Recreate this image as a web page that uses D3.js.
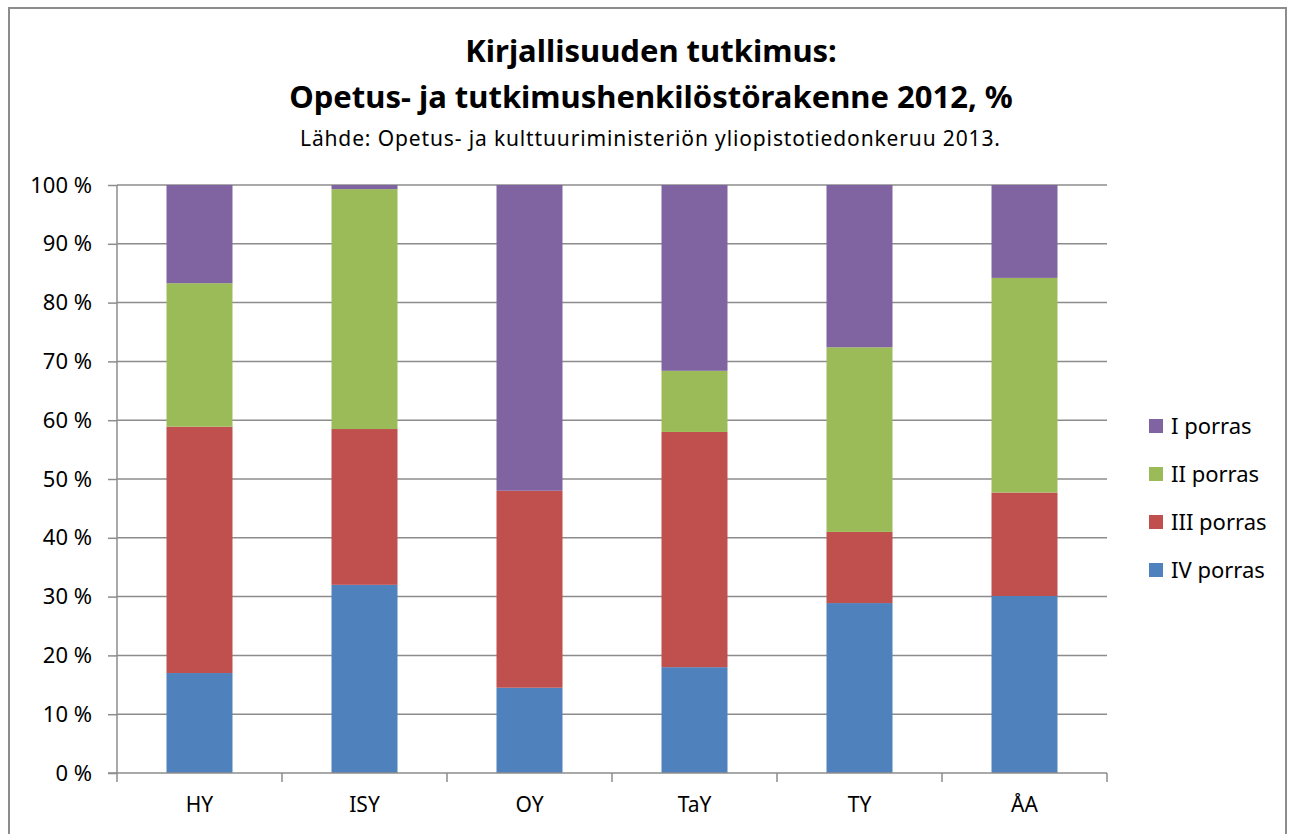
<html>
<head>
<meta charset="utf-8">
<title>Kirjallisuuden tutkimus</title>
<script src="https://cdn.jsdelivr.net/npm/d3@7"></script>
<style>
body { margin: 0; background: #fff; }
text { font-family: "Noto Sans", "Open Sans", sans-serif; fill: #000; }
</style>
</head>
<body>
<div id="chart"></div>
<script>

var universities = ["HY", "ISY", "OY", "TaY", "TY", "ÅA"];
var seriesNames = ["IV porras", "III porras", "II porras", "I porras"];
var seriesColors = ["#4F81BD", "#C0504D", "#9BBB59", "#8064A2"];

// shares in %
var porrasIV  = [17.0, 32.0, 14.5, 18.0, 28.9, 30.1];
var porrasIII = [41.9, 26.5, 33.5, 40.0, 12.1, 17.6];
var porrasII  = [24.4, 40.8,  0.0, 10.4, 31.4, 36.5];
var porrasI   = [16.7,  0.7, 52.0, 31.6, 27.6, 15.8];

var yTicks = [0, 10, 20, 30, 40, 50, 60, 70, 80, 90, 100];

var W = 1293, H = 834;
var svg = d3.select("#chart").append("svg")
  .attr("width", W).attr("height", H);

// chart frame
svg.append("rect")
  .attr("x", 9).attr("y", 8)
  .attr("width", 1277).attr("height", 840)
  .attr("fill", "none").attr("stroke", "#8c8c8c").attr("stroke-width", 2);

svg.append("text").attr("x", 651).attr("y", 62)
  .attr("text-anchor", "middle").style("font-size", "31px").style("font-weight", "bold")
  .text("Kirjallisuuden tutkimus:");
svg.append("text").attr("x", 651).attr("y", 108)
  .attr("text-anchor", "middle").style("font-size", "31px").style("font-weight", "bold")
  .text("Opetus- ja tutkimushenkilöstörakenne 2012, %");
svg.append("text").attr("x", 650).attr("y", 146)
  .attr("text-anchor", "middle").style("font-size", "21px")
  .attr("textLength", 700).attr("lengthAdjust", "spacing")
  .text("Lähde: Opetus- ja kulttuuriministeriön yliopistotiedonkeruu 2013.");

var plotLeft = 117, plotRight = 1107, plotTop = 185, plotBottom = 773;

var x = d3.scaleBand().domain(universities).range([plotLeft, plotRight]).paddingInner(0.6).paddingOuter(0.3);
var band = d3.scaleBand().domain(universities).range([plotLeft, plotRight]);
var y = d3.scaleLinear().domain([0, 100]).range([plotBottom, plotTop]);

// gridlines
svg.append("g").selectAll("line").data(yTicks.slice(1)).enter().append("line")
  .attr("x1", plotLeft).attr("x2", plotRight)
  .attr("y1", function(d) { return y(d); }).attr("y2", function(d) { return y(d); })
  .attr("stroke", "#8c8c8c").attr("stroke-width", 1.5);

// stacked bars
var rows = universities.map(function(u, i) {
  return { uni: u, "IV porras": porrasIV[i], "III porras": porrasIII[i], "II porras": porrasII[i], "I porras": porrasI[i] };
});
var stacked = d3.stack().keys(seriesNames)(rows);

svg.append("g").selectAll("g").data(stacked).enter().append("g")
  .attr("fill", function(d, i) { return seriesColors[i]; })
  .selectAll("rect").data(function(d) { return d; }).enter().append("rect")
  .attr("x", function(d) { return x(d.data.uni); })
  .attr("width", x.bandwidth())
  .attr("y", function(d) { return y(d[1]); })
  .attr("height", function(d) { return y(d[0]) - y(d[1]); });

// y axis
var yAxis = svg.append("g").attr("transform", "translate(" + plotLeft + ",0)")
  .call(d3.axisLeft(y).tickValues(yTicks).tickSize(9).tickPadding(16)
    .tickFormat(function(d) { return d + " %"; }));
yAxis.select(".domain").attr("stroke", "#8c8c8c").attr("stroke-width", 1.5).attr("d", "M0," + plotTop + "V" + plotBottom);
yAxis.selectAll(".tick line").attr("stroke", "#8c8c8c").attr("stroke-width", 1.5);
yAxis.selectAll(".tick text").style("font-size", "22px").attr("fill", "#000").style("font-family", "'Noto Sans', sans-serif");

// x axis
var xAxis = svg.append("g").attr("transform", "translate(0," + plotBottom + ")")
  .call(d3.axisBottom(band).tickSize(0).tickPadding(24));
xAxis.select(".domain").attr("stroke", "#8c8c8c").attr("stroke-width", 1.5).attr("d", "M" + (plotLeft - 9) + ",0H" + plotRight);
xAxis.selectAll(".tick text").style("font-size", "21px").attr("fill", "#000").style("font-family", "'Noto Sans', sans-serif");
svg.append("g").selectAll("line").data(d3.range(universities.length + 1)).enter().append("line")
  .attr("x1", function(i) { return plotLeft + i * band.bandwidth(); })
  .attr("x2", function(i) { return plotLeft + i * band.bandwidth(); })
  .attr("y1", plotBottom).attr("y2", plotBottom + 9)
  .attr("stroke", "#8c8c8c").attr("stroke-width", 1.5);

// legend
var legendOrder = [3, 2, 1, 0];
var legend = svg.append("g").selectAll("g").data(legendOrder).enter().append("g")
  .attr("transform", function(d, i) { return "translate(1149," + (426 + i * 48) + ")"; });
legend.append("rect").attr("x", 0).attr("y", -7).attr("width", 14).attr("height", 14)
  .attr("fill", function(d) { return seriesColors[d]; });
legend.append("text").attr("x", 22).attr("y", 8).style("font-size", "22px")
  .text(function(d) { return seriesNames[d]; });

</script>
</body>
</html>
